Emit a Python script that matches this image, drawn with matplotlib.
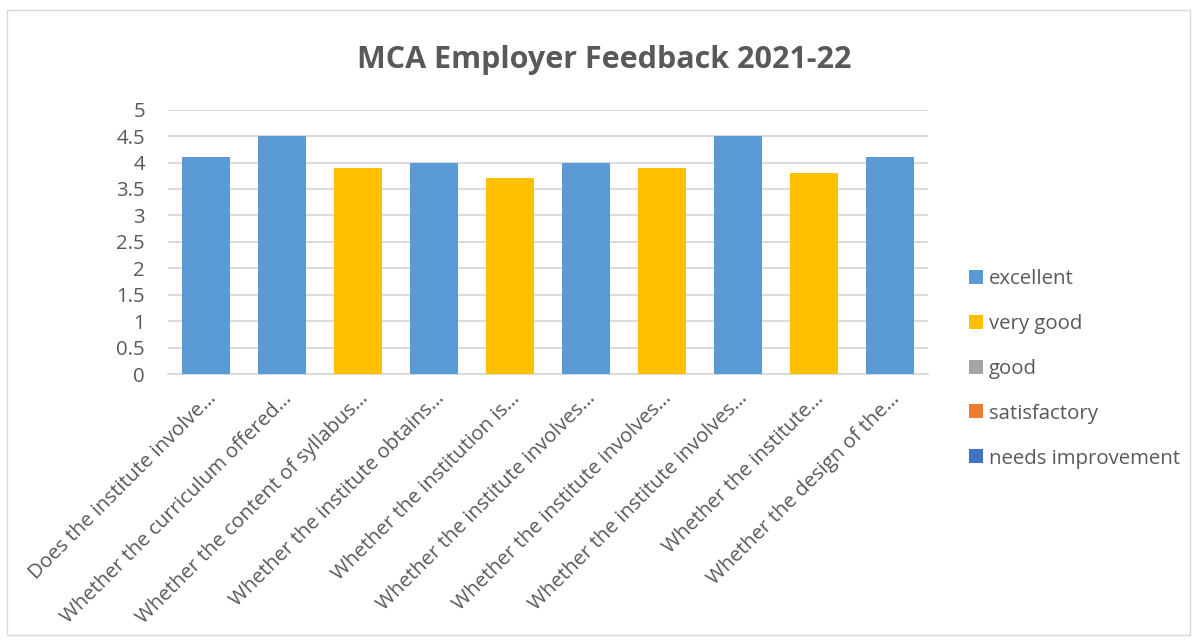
import matplotlib
matplotlib.use("Agg")
import matplotlib.pyplot as plt
from matplotlib.patches import Rectangle
import numpy as np

categories = [
    "Does the institute involve…",
    "Whether the curriculum offered…",
    "Whether the content of syllabus…",
    "Whether the institute obtains…",
    "Whether the institution is…",
    "Whether the institute involves…",
    "Whether the institute involves…",
    "Whether the institute involves…",
    "Whether the institute…",
    "Whether the design of the…",
]
series_names = ["excellent", "very good", "good", "satisfactory", "needs improvement"]
excellent = [4.1, 4.5, 0, 4.0, 0, 4.0, 0, 4.5, 0, 4.1]
very_good = [0, 0, 3.9, 0, 3.7, 0, 3.9, 0, 3.8, 0]
good = [0] * 10
satisfactory = [0] * 10
needs_improvement = [0] * 10
series_values = [excellent, very_good, good, satisfactory, needs_improvement]
colors = ["#5B9BD5", "#FFC000", "#A5A5A5", "#ED7D31", "#4472C4"]
yticks = [0, 0.5, 1, 1.5, 2, 2.5, 3, 3.5, 4, 4.5, 5]
title = "MCA Employer Feedback 2021-22"

txt = "#595959"
fs = 14.7
plt.rcParams['font.family'] = ['Open Sans', 'DejaVu Sans']

fig = plt.figure(figsize=(11.98, 6.41), dpi=100)
ax = fig.add_axes([168/1198, 1-374/641, (928-168)/1198, (374-109.7)/641])

x = np.arange(len(categories))
bottom = np.zeros(len(categories))
handles = []
for name, vals, c in zip(series_names, series_values, colors):
    vals = np.array(vals, dtype=float)
    b = ax.bar(x, vals, width=0.64, bottom=bottom, color=c, label=name, linewidth=0, zorder=3)
    bottom += vals
    handles.append(b)

ax.set_xlim(-0.5, len(categories) - 0.5)
ax.set_ylim(0, 5)
ax.set_yticks(yticks)
ax.set_yticklabels([f"{t:g}" for t in yticks])
ax.yaxis.grid(True, color="#D9D9D9", linewidth=1.3, zorder=0)
ax.set_axisbelow(True)
for s in ["top", "right", "left"]:
    ax.spines[s].set_visible(False)
ax.spines["bottom"].set_color("#D9D9D9")
ax.spines["bottom"].set_linewidth(1.3)
ax.tick_params(axis="y", length=0, pad=16.5, labelsize=fs, labelcolor=txt)
ax.tick_params(axis="x", length=0, pad=10.5, labelsize=fs, labelcolor=txt)
ax.set_xticks(x)
ax.set_xticklabels(categories, rotation=45, ha="right", va="top", rotation_mode="anchor")

fig.text(604/1198, 1-68/641, title, ha="center", va="baseline", fontsize=22,
         fontweight="bold", color=txt)

leg = fig.legend(handles=handles, labels=series_names, loc="upper left",
                 bbox_to_anchor=(950.5/1198, 1-250.5/641), frameon=False,
                 fontsize=fs, labelcolor=txt, handlelength=0.68, handleheight=0.68,
                 handletextpad=0.3, labelspacing=1.22)

fig.patches.append(Rectangle((7/1198, 6/641), 1183/1198, 625/641, transform=fig.transFigure,
                             fill=False, edgecolor="#D9D9D9", linewidth=1))

fig.savefig("out.png", dpi=100, facecolor="white")
